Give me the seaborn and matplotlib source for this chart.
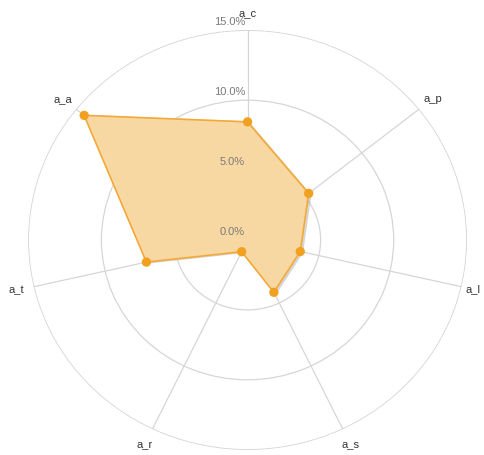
import numpy as np
import matplotlib
matplotlib.use("Agg")
import matplotlib.pyplot as plt
import matplotlib.patheffects as pe
from matplotlib.transforms import offset_copy
import seaborn as sns

# axes, clockwise from the top
CATEGORIES = ["a_c", "a_p", "a_l", "a_s", "a_r", "a_t", "a_a"]
VALUES = [8.45, 5.35, 3.7, 4.15, 0.93, 7.1, 14.3]  # percent
R_TICKS = [0, 5, 10, 15]
R_LABELS = ["0.0%", "5.0%", "10.0%", "15.0%"]

FILL = "#FBD9A0"
EDGE = "#F2A93B"
DOT = "#F2A01F"
GRID = "#D6D6D6"
NAME_R = 16.2            # radius of the axis names
NAME_R_EDGE = {"a_l": 15.8}  # pulled in so it stays inside the picture

sns.set_style("white")
plt.rcParams["font.family"] = ["Liberation Sans", "DejaVu Sans"]

fig = plt.figure(figsize=(4.84, 4.55), dpi=100)
# the reference is slightly wider than tall, so let the polar axes stretch
ax = fig.add_axes([0.058, 0.011, 0.907, 0.923], projection="polar")
ax.set_aspect("auto")
ax.set_theta_offset(np.pi / 2)
ax.set_theta_direction(-1)

angles = np.linspace(0, 2 * np.pi, len(CATEGORIES), endpoint=False)
closed_a = np.append(angles, angles[0])
closed_v = np.append(VALUES, VALUES[0])

poly = ax.fill(closed_a, closed_v, color=FILL, alpha=0.95, zorder=2)[0]
poly.set_path_effects([pe.SimplePatchShadow(offset=(2, -1), shadow_rgbFace="#888888", alpha=0.35),
                       pe.Normal()])
ax.plot(closed_a, closed_v, color=EDGE, lw=1.2, zorder=3)
sns.scatterplot(x=angles, y=VALUES, ax=ax, color=DOT, s=45, edgecolor="none", zorder=4)

ax.set_ylim(0, 15.02)
ax.set_yticks(R_TICKS[1:])
ax.set_yticklabels([])
rlab_tr = offset_copy(ax.transData, fig=fig, x=-2.5, y=3, units="dots")
for r, lab in zip(R_TICKS, R_LABELS):
    ax.text(0, r, lab, ha="right", va="bottom", fontsize=8, color="#7a7a7a",
            zorder=5, transform=rlab_tr)

ax.set_xticks(angles)
ax.set_xticklabels([])
for a, name in zip(angles, CATEGORIES):
    ax.text(a, NAME_R_EDGE.get(name, NAME_R), name, ha="center", va="center",
            fontsize=8, color="#333333")
ax.grid(True, color=GRID, lw=0.9)
ax.spines["polar"].set_visible(False)
ax.set_xlabel("")
ax.set_ylabel("")

fig.savefig("out.png", dpi=100)
